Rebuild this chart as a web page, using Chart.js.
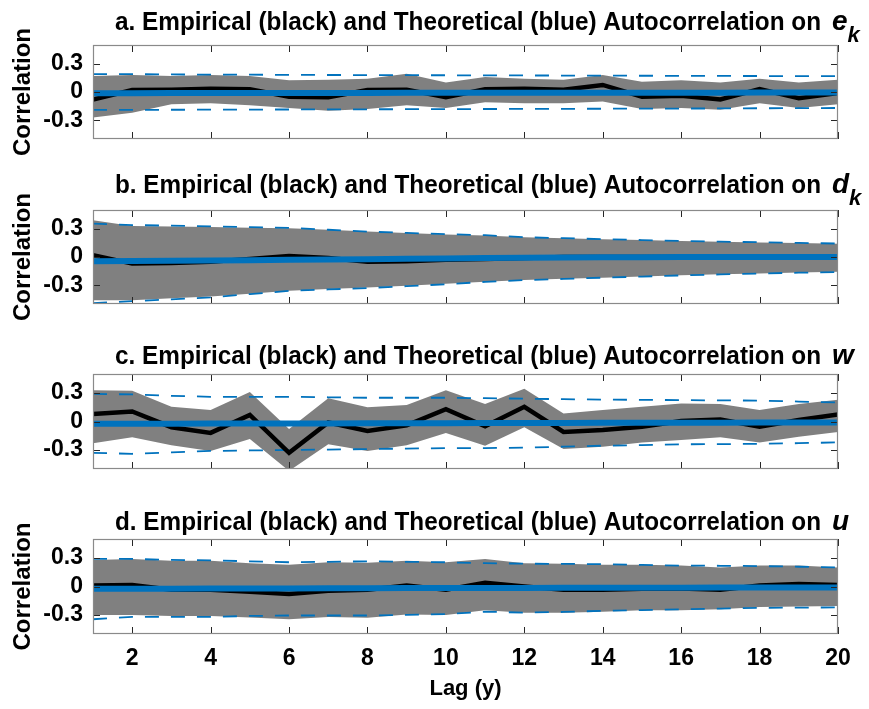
<!DOCTYPE html>
<html><head><meta charset="utf-8">
<script src="https://cdn.jsdelivr.net/npm/chart.js@4.4.0/dist/chart.umd.min.js"></script>
<style>
html,body{margin:0;padding:0;background:#fff;width:869px;height:709px;overflow:hidden;}
.p{position:absolute;left:0;width:869px;}
canvas{display:block;}
</style></head><body>
<script>
// ---------------- data ----------------
const lags = [1,2,3,4,5,6,7,8,9,10,11,12,13,14,15,16,17,18,19,20];
const yTickVals = [-0.3, 0, 0.3];
const yTickLabels = ['-0.3', '0', '0.3'];
const xTickVals = [2,4,6,8,10,12,14,16,18,20];
const xTickLabels = ['2','4','6','8','10','12','14','16','18','20'];
const panelLetters = ['a','b','c','d'];
const titleText = 'Empirical (black) and Theoretical (blue) Autocorrelation on';
const varNames = ['e','d','w','u'];
const varSubs = ['k','k','',''];
const yLabel = 'Correlation';
const xLabel = 'Lag (y)';

// panel a : e_k
const empA   = [-0.08, 0.02, 0.025, 0.035, 0.03, -0.05, -0.055, 0.02, 0.025, -0.055, 0.03, 0.035, 0.025, 0.075, -0.05, -0.04, -0.08, 0.03, -0.065, -0.01];
const bandUpA = [0.17, 0.18, 0.17, 0.18, 0.17, 0.125, 0.13, 0.14, 0.195, 0.10, 0.16, 0.14, 0.13, 0.18, 0.11, 0.125, 0.10, 0.14, 0.10, 0.13];
const bandLoA = [-0.27, -0.22, -0.13, -0.12, -0.14, -0.17, -0.20, -0.18, -0.14, -0.17, -0.11, -0.12, -0.12, -0.10, -0.18, -0.17, -0.19, -0.12, -0.17, -0.13];
const theoA  = [-0.012, -0.012, -0.011, -0.011, -0.011, -0.010, -0.010, -0.010, -0.009, -0.009, -0.009, -0.008, -0.008, -0.008, -0.007, -0.007, -0.007, -0.006, -0.006, -0.006];
const ciUpA  = [0.19, 0.19, 0.187, 0.185, 0.184, 0.182, 0.181, 0.180, 0.179, 0.178, 0.177, 0.176, 0.175, 0.174, 0.173, 0.172, 0.171, 0.170, 0.169, 0.168];
const ciLoA  = [-0.19, -0.19, -0.189, -0.188, -0.187, -0.186, -0.185, -0.184, -0.183, -0.182, -0.181, -0.180, -0.179, -0.178, -0.177, -0.176, -0.175, -0.173, -0.172, -0.170];

// panel b : d_k
const empB   = [0.02, -0.07, -0.065, -0.05, -0.02, 0.01, -0.01, -0.05, -0.045, -0.03, -0.02, -0.01, 0.0, 0.0, 0.0, 0.0, 0.0, 0.0, 0.0, 0.0];
const bandUpB = [0.39, 0.33, 0.325, 0.32, 0.31, 0.305, 0.29, 0.27, 0.255, 0.24, 0.23, 0.21, 0.2, 0.19, 0.18, 0.17, 0.163, 0.155, 0.148, 0.14];
const bandLoB = [-0.46, -0.46, -0.44, -0.42, -0.39, -0.36, -0.34, -0.325, -0.305, -0.285, -0.262, -0.245, -0.232, -0.22, -0.207, -0.195, -0.184, -0.175, -0.166, -0.158];
const theoB  = [-0.045, -0.042, -0.040, -0.037, -0.034, -0.030, -0.027, -0.023, -0.019, -0.015, -0.011, -0.008, -0.005, -0.003, -0.002, -0.001, 0.0, 0.0, 0.0, 0.0];
const ciUpB  = [0.354, 0.34, 0.333, 0.325, 0.317, 0.31, 0.29, 0.27, 0.256, 0.243, 0.232, 0.21, 0.2, 0.19, 0.18, 0.17, 0.163, 0.157, 0.15, 0.143];
const ciLoB  = [-0.49, -0.47, -0.45, -0.43, -0.395, -0.36, -0.345, -0.33, -0.31, -0.29, -0.264, -0.246, -0.233, -0.22, -0.208, -0.196, -0.185, -0.175, -0.167, -0.16];

// panel c : w
const empC   = [0.08, 0.105, -0.06, -0.12, 0.07, -0.33, -0.01, -0.10, -0.04, 0.13, -0.05, 0.155, -0.11, -0.09, -0.055, 0.005, 0.02, -0.055, 0.015, 0.075];
const bandUpC = [0.33, 0.325, 0.155, 0.12, 0.31, -0.08, 0.245, 0.15, 0.175, 0.33, 0.185, 0.345, 0.085, 0.12, 0.155, 0.19, 0.185, 0.12, 0.185, 0.23];
const bandLoC = [-0.23, -0.165, -0.25, -0.31, -0.185, -0.52, -0.24, -0.31, -0.25, -0.12, -0.255, -0.06, -0.29, -0.265, -0.22, -0.195, -0.165, -0.22, -0.16, -0.11];
const theoC  = [-0.025, -0.024, -0.023, -0.022, -0.022, -0.021, -0.020, -0.019, -0.018, -0.018, -0.017, -0.016, -0.015, -0.014, -0.014, -0.013, -0.012, -0.011, -0.010, -0.010];
const ciUpC  = [0.29, 0.285, 0.27, 0.26, 0.26, 0.26, 0.255, 0.25, 0.25, 0.25, 0.245, 0.24, 0.235, 0.23, 0.228, 0.225, 0.222, 0.22, 0.21, 0.2];
const ciLoC  = [-0.33, -0.34, -0.325, -0.31, -0.305, -0.30, -0.295, -0.29, -0.285, -0.28, -0.28, -0.275, -0.265, -0.255, -0.248, -0.24, -0.238, -0.235, -0.228, -0.22];

// panel d : u
const empD   = [0.01, 0.015, -0.035, -0.035, -0.055, -0.08, -0.045, -0.035, 0.01, -0.035, 0.04, 0.0, -0.035, -0.035, -0.025, -0.02, -0.035, 0.01, 0.025, 0.015];
const bandUpD = [0.28, 0.29, 0.27, 0.27, 0.245, 0.23, 0.255, 0.25, 0.27, 0.255, 0.29, 0.245, 0.24, 0.23, 0.23, 0.22, 0.2, 0.22, 0.22, 0.2];
const bandLoD = [-0.30, -0.30, -0.31, -0.31, -0.325, -0.345, -0.32, -0.33, -0.295, -0.30, -0.25, -0.275, -0.275, -0.265, -0.25, -0.25, -0.24, -0.215, -0.21, -0.205];
const theoD  = [-0.025, -0.024, -0.023, -0.022, -0.021, -0.020, -0.019, -0.018, -0.017, -0.016, -0.016, -0.015, -0.014, -0.013, -0.013, -0.012, -0.011, -0.011, -0.010, -0.010];
const ciUpD  = [0.29, 0.29, 0.28, 0.275, 0.265, 0.255, 0.26, 0.265, 0.26, 0.255, 0.245, 0.24, 0.238, 0.235, 0.228, 0.22, 0.218, 0.215, 0.208, 0.2];
const ciLoD  = [-0.345, -0.32, -0.32, -0.32, -0.31, -0.305, -0.305, -0.305, -0.298, -0.29, -0.265, -0.275, -0.268, -0.255, -0.248, -0.24, -0.232, -0.225, -0.222, -0.22];

// ---------------- layout / style ----------------
const panels = [
  {emp: empA, up: bandUpA, lo: bandLoA, theo: theoA, ciUp: ciUpA, ciLo: ciLoA},
  {emp: empB, up: bandUpB, lo: bandLoB, theo: theoB, ciUp: ciUpB, ciLo: ciLoB},
  {emp: empC, up: bandUpC, lo: bandLoC, theo: theoC, ciUp: ciUpC, ciLo: ciLoC},
  {emp: empD, up: bandUpD, lo: bandLoD, theo: theoD, ciUp: ciUpD, ciLo: ciLoD}
];
const geom = [
  {top: 0,   h: 165, areaTop: 45, areaH: 94, titleBase: 30, showYLabel: true,  showX: false},
  {top: 165, h: 165, areaTop: 45, areaH: 94, titleBase: 28, showYLabel: true,  showX: false},
  {top: 329, h: 165, areaTop: 45, areaH: 95, titleBase: 35, showYLabel: false, showX: false},
  {top: 494, h: 215, areaTop: 45, areaH: 95, titleBase: 36, showYLabel: true,  showX: true}
];
const AREA_LEFT = 93, AREA_RIGHT = 838, W = 869;
const FONT = '"Liberation Sans", Arial, Helvetica, sans-serif';
const BLUE = '#0072BD', GRAY = '#808080', TXT = '#000000', AXC = '#262626';

function pts(arr){ return lags.map((l,i)=>({x:l, y:arr[i]})); }

function drawSquished(ctx, text, x, y, font, sx, align){
  ctx.save();
  ctx.font = font;
  ctx.translate(x, y);
  ctx.scale(sx, 1);
  ctx.textAlign = align || 'left';
  ctx.fillText(text, 0, 0);
  ctx.restore();
}

const decor = {
  id: 'decor',
  afterDraw(chart, args, o){
    const {ctx, chartArea: a, scales: {x, y}} = chart;
    const g = o.g, idx = o.idx;
    ctx.save();
    // frame + inward ticks
    ctx.strokeStyle = AXC;
    ctx.lineWidth = 1;
    ctx.beginPath();
    const TL = 7;
    xTickVals.forEach(v => {
      const px = Math.round(x.getPixelForValue(v)) + 0.5;
      ctx.moveTo(px, a.top); ctx.lineTo(px, a.top + TL);
      ctx.moveTo(px, a.bottom); ctx.lineTo(px, a.bottom - TL);
    });
    yTickVals.forEach(v => {
      const py = Math.round(y.getPixelForValue(v)) + 0.5;
      ctx.moveTo(a.left, py); ctx.lineTo(a.left + TL, py);
      ctx.moveTo(a.right, py); ctx.lineTo(a.right - TL, py);
    });
    ctx.stroke();
    ctx.strokeStyle = '#8a8a8a';
    ctx.lineWidth = 1.2;
    ctx.strokeRect(a.left + 0.5, a.top + 0.5, a.right - a.left - 1, a.bottom - a.top - 1);

    // title
    ctx.fillStyle = TXT;
    ctx.textBaseline = 'alphabetic';
    const tFont = 'bold 25px ' + FONT;
    ctx.font = tFont;
    const prefix = panelLetters[idx] + '. ' + titleText;
    const sx = 706 / ctx.measureText(prefix).width;
    drawSquished(ctx, prefix, 115, g.titleBase, tFont, sx);
    const iFont = 'italic bold 28px ' + FONT;
    drawSquished(ctx, varNames[idx], 832, g.titleBase, iFont, 1);
    if (varSubs[idx]) {
      ctx.font = iFont;
      const vw = ctx.measureText(varNames[idx]).width;
      drawSquished(ctx, varSubs[idx], 832 + vw, g.titleBase + 12, 'italic bold 22px ' + FONT, 1);
    }
    // y label
    if (g.showYLabel) {
      ctx.save();
      ctx.translate(30, (a.top + a.bottom) / 2);
      ctx.rotate(-Math.PI / 2);
      ctx.font = 'bold 24px ' + FONT;
      ctx.textAlign = 'center';
      ctx.fillText(yLabel, 0, 0);
      ctx.restore();
    }
    // x label
    if (g.showX) {
      drawSquished(ctx, xLabel, (a.left + a.right) / 2, a.bottom + 61, 'bold 22px ' + FONT, 1, 'center');
    }
    ctx.restore();
  }
};

panels.forEach((p, idx) => {
  const g = geom[idx];
  const div = document.createElement('div');
  div.className = 'p';
  div.style.top = g.top + 'px';
  div.style.height = g.h + 'px';
  const cv = document.createElement('canvas');
  cv.width = W; cv.height = g.h;
  cv.style.width = W + 'px'; cv.style.height = g.h + 'px';
  div.appendChild(cv);
  document.body.appendChild(div);
  const xh = g.h - g.areaTop - g.areaH;

  new Chart(cv, {
    type: 'line',
    data: {
      datasets: [
        {data: pts(p.theo), borderColor: BLUE, borderWidth: 6, pointRadius: 0, fill: false, tension: 0},
        {data: pts(p.emp), borderColor: '#000000', borderWidth: 4.5, pointRadius: 0, fill: false, tension: 0, borderJoinStyle: 'miter'},
        {data: pts(p.ciUp), borderColor: BLUE, borderWidth: 1.8, borderDash: [14, 12], pointRadius: 0, fill: false},
        {data: pts(p.ciLo), borderColor: BLUE, borderWidth: 1.8, borderDash: [14, 12], pointRadius: 0, fill: false},
        {data: pts(p.up), borderWidth: 0, borderColor: GRAY, backgroundColor: GRAY, pointRadius: 0, fill: '+1'},
        {data: pts(p.lo), borderWidth: 0, borderColor: GRAY, backgroundColor: GRAY, pointRadius: 0, fill: false}
      ]
    },
    options: {
      responsive: false,
      animation: false,
      events: [],
      layout: {padding: {top: g.areaTop, right: W - AREA_RIGHT, left: 0, bottom: 0}},
      plugins: {legend: {display: false}, tooltip: {enabled: false}, title: {display: false},
        decor: {g: g, idx: idx}},
      scales: {
        x: {
          type: 'linear', min: 1, max: 20,
          grid: {display: false, drawTicks: false}, border: {display: false},
          afterBuildTicks: s => { s.ticks = xTickVals.map(v => ({value: v})); },
          afterFit: s => { s.height = xh; },
          ticks: {display: g.showX, padding: 11, color: TXT, font: {family: FONT, size: 23, weight: 'bold'},
                  maxRotation: 0, autoSkip: false,
                  callback: v => xTickLabels[xTickVals.indexOf(v)]}
        },
        y: {
          min: -0.5, max: 0.5,
          grid: {display: false, drawTicks: false}, border: {display: false},
          afterBuildTicks: s => { s.ticks = yTickVals.map(v => ({value: v})); },
          afterFit: s => { s.width = AREA_LEFT; },
          ticks: {padding: 10, color: TXT, font: {family: FONT, size: 23, weight: 'bold'},
                  callback: v => yTickLabels[yTickVals.indexOf(v)]}
        }
      }
    },
    plugins: [decor]
  });
});
</script>
</body></html>
